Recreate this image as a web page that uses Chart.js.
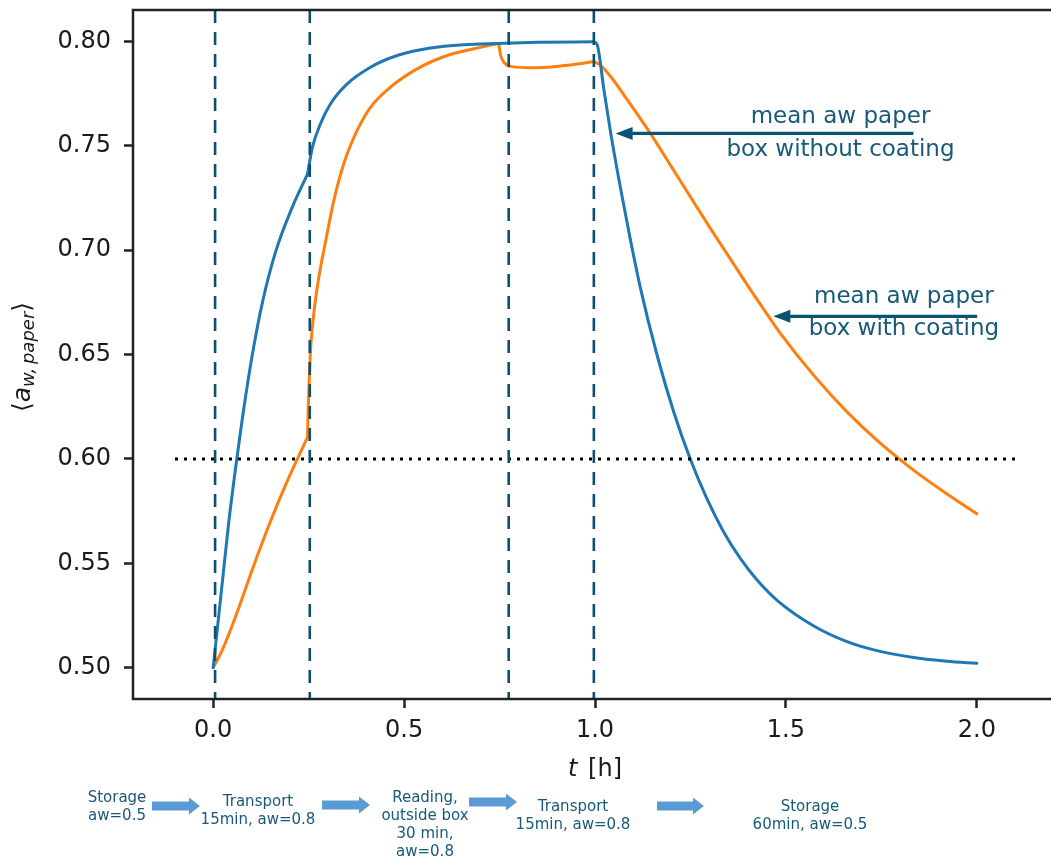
<!DOCTYPE html>
<html>
<head>
<meta charset="utf-8">
<script src="https://cdn.jsdelivr.net/npm/chart.js@4.4.1/dist/chart.umd.min.js"></script>
<style>
html,body{margin:0;padding:0;background:#fff;overflow:hidden;width:1051px;height:859px;}
#wrap{position:absolute;left:0;top:0;width:1070px;height:859px;}
#flow{position:absolute;left:0;top:0;}
.step{position:absolute;transform:translateX(-50%);text-align:center;font:15px "DejaVu Sans",sans-serif;line-height:18px;color:#17597a;white-space:nowrap;}
</style>
</head>
<body>
<div id="wrap"><canvas id="awChart" width="1070" height="859"></canvas></div>
<svg id="flow" width="1051" height="859"></svg>
<div id="steps"></div>
<script>
// ======================
// DATA
// ======================

// box without coating
const tNoCoat = [0, 0.024, 0.041, 0.063, 0.085, 0.107, 0.129, 0.164, 0.207, 0.247,
  0.26, 0.281, 0.307, 0.351, 0.412, 0.482, 0.569, 0.657, 0.744, 0.85, 0.997,
  1.006, 1.023, 1.041, 1.067, 1.093, 1.119, 1.163, 1.206, 1.25, 1.294, 1.337, 1.381, 1.425, 1.48, 1.573, 1.66, 1.747, 1.835, 1.922, 2.0];
const awNoCoat = [0.500, 0.541, 0.570, 0.6015, 0.630, 0.6545, 0.675, 0.6995, 0.7205, 0.7364,
  0.7493, 0.7605, 0.770, 0.7796, 0.7876, 0.7932, 0.7968, 0.7984, 0.799, 0.7995, 0.7998,
  0.7982, 0.7772, 0.7562, 0.7295, 0.7047, 0.6818, 0.6494, 0.6226, 0.5997, 0.5806, 0.565, 0.5522, 0.5419, 0.5318, 0.520, 0.5125, 0.5078, 0.5049, 0.5031, 0.5021];

// box with coating
const tCoat = [0, 0.024, 0.059, 0.103, 0.146, 0.19, 0.247,
  0.249, 0.252, 0.256, 0.262, 0.27, 0.28, 0.295, 0.316, 0.342, 0.377, 0.412, 0.464, 0.534, 0.613, 0.7, 0.744, 0.748,
  0.753, 0.761, 0.779, 0.848, 0.936, 0.997,
  1.015, 1.03, 1.05, 1.075, 1.1, 1.15, 1.2, 1.25, 1.3, 1.35, 1.4, 1.45, 1.486, 1.573, 1.66, 1.747, 1.835, 1.922, 2.0];
const awCoat = [0.500, 0.5085, 0.5246, 0.5473, 0.5682, 0.5877, 0.6103,
  0.625, 0.640, 0.655, 0.667, 0.679, 0.6905, 0.7047, 0.7238, 0.7414, 0.7573, 0.7684, 0.778, 0.7868, 0.7932, 0.7971, 0.7988, 0.7989,
  0.7932, 0.790, 0.788, 0.7873, 0.7887, 0.7903,
  0.7885, 0.7855, 0.781, 0.7745, 0.768, 0.7545, 0.740, 0.7255, 0.711, 0.697, 0.683, 0.6695, 0.660, 0.640, 0.6225, 0.6075, 0.5945, 0.5832, 0.5737];

// kinks where the storage condition changes (curves are smooth in between)
const kinksNoCoat = [0.247, 0.997];
const kinksCoat = [0.247, 0.748, 0.997];

// phase boundaries [h] and the aw = 0.6 limit
const phaseBounds = [0.005, 0.253, 0.774, 0.997];
const limitT = [-0.1, 2.1];
const limitAw = 0.6;

const xTicks = [0, 0.5, 1.0, 1.5, 2.0];
const yTicks = [0.50, 0.55, 0.60, 0.65, 0.70, 0.75, 0.80];

const noteLines = [["mean aw paper", "box without coating"], ["mean aw paper", "box with coating"]];
const stepLabels = [
  ["Storage", "aw=0.5"],
  ["Transport", "15min, aw=0.8"],
  ["Reading,", "outside box", "30 min,", "aw=0.8"],
  ["Transport", "15min, aw=0.8"],
  ["Storage", "60min, aw=0.5"]
];

// ======================
// LAYOUT / STYLE
// ======================
const teal = "#0d4f6f";
const noteText = "#17597a";
const axisColor = "#222";
const font = '"DejaVu Sans", sans-serif';

// annotation anchors in data units (text centre, arrow tail -> tip)
const notePos = [
  {tx: 1.643, ty: [0.7635, 0.7477], from: 1.834, to: 1.054, ay: 0.7559},
  {tx: 1.809, ty: [0.6777, 0.6621], from: 2.001, to: 1.467, ay: 0.6683}
];
const stepPos = [[117, 788], [258, 792], [425, 788], [573, 797], [810, 797]];
const flowArrows = [[152, 200, 806], [322, 370, 805], [469, 517, 802], [657, 704, 806]];

const toXY = (ts, vs) => ts.map((t, i) => ({x: t, y: vs[i]}));

// split a series at its kinks so the smoothing does not round them off
function pieces(ts, vs, kinks) {
  const cuts = [ts[0], ...kinks, ts[ts.length - 1]];
  const out = [];
  for (let k = 0; k < cuts.length - 1; k++) {
    out.push(toXY(ts, vs).filter(p => p.x >= cuts[k] && p.x <= cuts[k + 1]));
  }
  return out;
}

// ======================
// EXTRA DRAWING (spines, titles, arrows)
// ======================
const decor = {
  id: "decor",
  afterDatasetsDraw(chart) {
    const {ctx, chartArea: a, scales: {x, y}} = chart;
    ctx.save();

    // axes box
    ctx.strokeStyle = axisColor;
    ctx.lineWidth = 2.5;
    ctx.strokeRect(a.left, a.top, a.right - a.left, a.bottom - a.top);

    // notes with arrows
    ctx.font = "23px " + font;
    ctx.textAlign = "center";
    ctx.textBaseline = "middle";
    notePos.forEach((n, i) => {
      ctx.fillStyle = noteText;
      noteLines[i].forEach((s, j) => ctx.fillText(s, x.getPixelForValue(n.tx), y.getPixelForValue(n.ty[j])));
      const x0 = x.getPixelForValue(n.from), x1 = x.getPixelForValue(n.to), yy = y.getPixelForValue(n.ay);
      ctx.strokeStyle = "#0b5373";
      ctx.fillStyle = "#0b5373";
      ctx.lineWidth = 3.2;
      ctx.beginPath();
      ctx.moveTo(x0, yy);
      ctx.lineTo(x1 + 12, yy);
      ctx.stroke();
      ctx.beginPath();
      ctx.moveTo(x1, yy);
      ctx.lineTo(x1 + 17, yy - 6.5);
      ctx.lineTo(x1 + 17, yy + 6.5);
      ctx.closePath();
      ctx.fill();
    });

    // x title: t [h]
    ctx.fillStyle = "#1a1a1a";
    ctx.textAlign = "left";
    ctx.textBaseline = "alphabetic";
    ctx.font = "italic 24px " + font;
    const wt = ctx.measureText("t").width;
    ctx.font = "24px " + font;
    const wh = ctx.measureText(" [h]").width;
    let sx = 595 - (wt + wh + 3) / 2;
    ctx.font = "italic 24px " + font;
    ctx.fillText("t", sx, 776);
    ctx.font = "24px " + font;
    ctx.fillText(" [h]", sx + wt + 3, 776);

    // y title: <a_{w,paper}>
    ctx.translate(22, 357);
    ctx.rotate(-Math.PI / 2);
    const parts = [
      {s: "\u27E8", f: "25px " + font, dy: 8},
      {s: "a", f: "italic 25px " + font, dy: 8},
      {s: "w,\u2009paper", f: "italic 18px " + font, dy: 12},
      {s: "\u27E9", f: "25px " + font, dy: 8}
    ];
    let total = 0;
    parts.forEach(p => { ctx.font = p.f; p.w = ctx.measureText(p.s).width; total += p.w; });
    let px = -total / 2;
    parts.forEach(p => { ctx.font = p.f; ctx.fillText(p.s, px, p.dy); px += p.w; });

    ctx.restore();
  }
};

// ======================
// CHART
// ======================
const lineDefaults = {pointRadius: 0, pointHoverRadius: 0, fill: false};
const curve = (data, color) => ({
  ...lineDefaults, data, borderColor: color, borderWidth: 3,
  cubicInterpolationMode: "monotone", borderCapStyle: "round", order: 1
});

new Chart(document.getElementById("awChart"), {
  type: "line",
  data: {
    datasets: [
      ...phaseBounds.map(t => ({
        ...lineDefaults,
        data: [{x: t, y: 0.815}, {x: t, y: 0.485}],
        borderColor: teal, borderWidth: 2.6, borderDash: [13, 9], order: 0
      })),
      {
        ...lineDefaults,
        data: limitT.map(t => ({x: t, y: limitAw})),
        borderColor: "#000", borderWidth: 3, borderDash: [3, 6], order: 0
      },
      ...pieces(tNoCoat, awNoCoat, kinksNoCoat).map(d => curve(d, "#1f77b4")),
      ...pieces(tCoat, awCoat, kinksCoat).map(d => curve(d, "#ff7f0e"))
    ]
  },
  options: {
    responsive: false,
    animation: false,
    devicePixelRatio: 1,
    layout: {padding: {top: 10, right: 13, left: 0, bottom: 0}},
    plugins: {legend: {display: false}, tooltip: {enabled: false}},
    scales: {
      x: {
        type: "linear",
        min: -0.21,
        max: 2.21,
        afterBuildTicks: s => { s.ticks = xTicks.map(v => ({value: v})); },
        afterFit: s => { s.height = 160; s.paddingLeft = 0; s.paddingRight = 0; },
        ticks: {
          font: {family: "DejaVu Sans", size: 24},
          color: "#1a1a1a",
          padding: 8,
          maxRotation: 0,
          callback: v => v.toFixed(1)
        },
        grid: {drawOnChartArea: false, drawTicks: true, tickLength: 9, tickWidth: 2.5, tickColor: axisColor},
        border: {display: false}
      },
      y: {
        min: 0.485,
        max: 0.815,
        afterBuildTicks: s => { s.ticks = yTicks.map(v => ({value: v})); },
        afterFit: s => { s.width = 133; s.paddingTop = 0; s.paddingBottom = 0; },
        ticks: {
          font: {family: "DejaVu Sans", size: 24},
          color: "#1a1a1a",
          padding: 13,
          callback: v => v.toFixed(2)
        },
        grid: {drawOnChartArea: false, drawTicks: true, tickLength: 9, tickWidth: 2.5, tickColor: axisColor},
        border: {display: false}
      }
    }
  },
  plugins: [decor]
});

// ======================
// PROCESS STEPS UNDER THE AXIS
// ======================
const steps = document.getElementById("steps");
stepLabels.forEach((lines, i) => {
  const d = document.createElement("div");
  d.className = "step";
  d.style.left = stepPos[i][0] + "px";
  d.style.top = stepPos[i][1] + "px";
  d.innerHTML = lines.join("<br>");
  steps.appendChild(d);
});

const flow = document.getElementById("flow");
flowArrows.forEach(([x1, x2, y]) => {
  const p = document.createElementNS("http://www.w3.org/2000/svg", "polygon");
  const h = x2 - 11;
  p.setAttribute("points", `${x1},${y - 4.5} ${h},${y - 4.5} ${h},${y - 8.5} ${x2},${y} ${h},${y + 8.5} ${h},${y + 4.5} ${x1},${y + 4.5}`);
  p.setAttribute("fill", "#5b9bd5");
  flow.appendChild(p);
});
</script>
</body>
</html>
